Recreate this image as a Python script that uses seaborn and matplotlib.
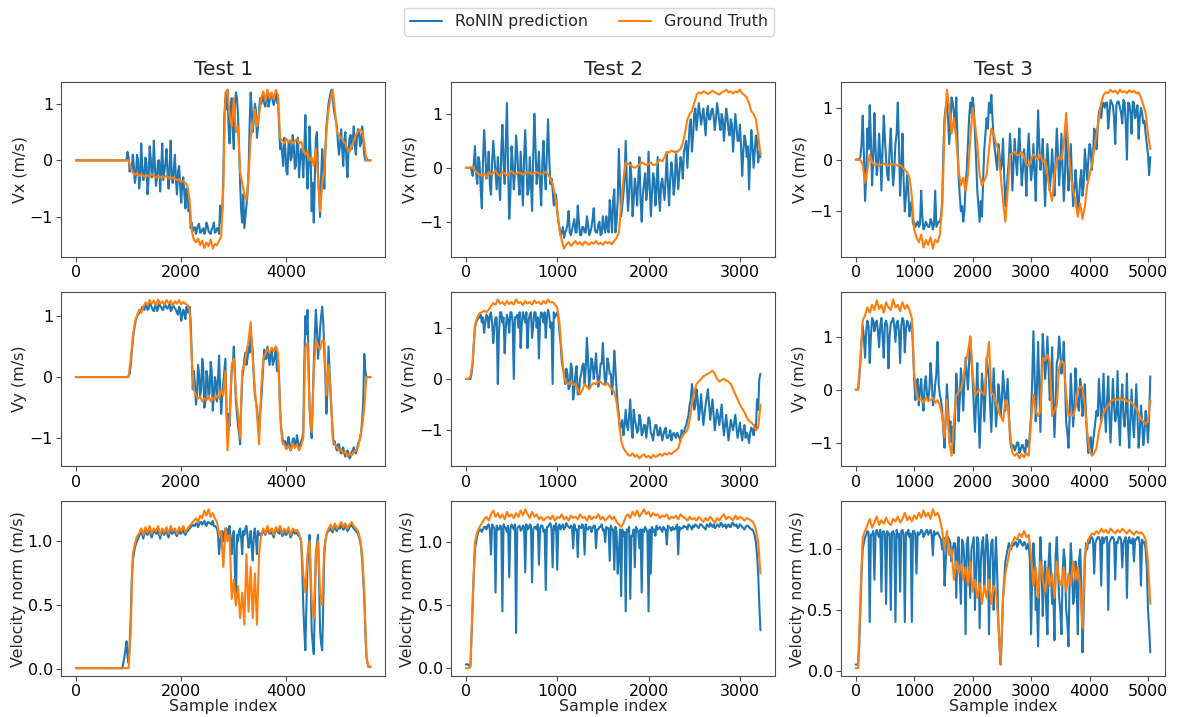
import numpy as np
import pandas as pd
import seaborn as sns
import matplotlib
matplotlib.use("Agg")
import matplotlib.pyplot as plt
from matplotlib.lines import Line2D

# ---- data (sample index = evenly spaced over each run)
TESTS = ["Test 1", "Test 2", "Test 3"]
TEST_LEN = [5600, 3225, 5040]
ROW_LABELS = ["Vx (m/s)", "Vy (m/s)", "Velocity norm (m/s)"]
SERIES = ["RoNIN prediction", "Ground Truth"]

# Test 1 (141 samples each; *_mid = readings half-way between those samples)
t1_vx_pred = [0] * 24 + [0.02, 0.05, -0.1, 0.1,
    -0.4, 0.1, -0.5, 0.3, -0.35, 0.05, -0.6, 0.25, -0.3, 0.35, -0.45, 0.0, -0.55, 0.3, -0.2, 0.2, -0.5, 0.35,
    -0.4, 0.1, -0.6, -0.1, -0.75, -0.3, -0.85,
    -0.6, -0.8, -1.1,
    -1.2, -1.3, -1.15, -1.28, -1.22, -1.3, -1.1, -1.25, -1.3, -1.18, -1.28, -1.2, -1.3, -1.1,
    -0.3, 1.1, 1.25, 0.3, 1.1, 0.2, 1.2, 0.8, -0.4, -1.1, -1.2, -0.8, -0.2, 1.2, 0.5, 1.0, 0.4, 0.9,
    1.0, 1.15, 0.95, 1.2, 1.05, 1.15, 0.98, 1.2, 1.1,
    0.2,
    0.1, 0.4, -0.2, 0.3, 0.0, 0.45, -0.15, 0.35, -0.3, 0.2,
    -0.3, 0.8, -0.5, 0.6, -0.9, -1.1, 0.4, -0.2, -1.0, 0.2, -0.5, 0.6, 1.0, 1.2, 1.1, 0.8, 0.6,
    0.1, 0.55, -0.1, 0.5, -0.3, 0.4,
    0.2, 0.6, 0.1, 0.55, 0.25, 0.6,
    0.1, 0.05, 0.0, 0.0]
t1_vx_pred_mid = [0] * 23 + [0.0, 0.15, -0.2, -0.15,
    -0.1, -0.25, 0.0, -0.3, -0.1, -0.25, -0.05, -0.35, 0.05, -0.2, -0.1, -0.3, 0.0, -0.15, -0.35, -0.05,
    -0.2, -0.1, -0.3, -0.15, -0.35, -0.2, -0.45, -0.4, -0.6,
    -0.5, -0.9, -1.2,
    -1.25, -1.18, -1.22, -1.12, -1.27, -1.2, -1.24, -1.15, -1.28, -1.22, -1.1, -1.26, -1.2, -0.8,
    -0.9, 0.8, 0.9, 0.6, 0.9, 0.5, 1.0, 1.1, 0.2, -0.9, -0.6, -1.0, -0.6, 0.6, 0.9, 0.7, 0.9, 0.6, 1.1,
    1.08, 1.0, 1.12, 0.95, 1.18, 1.05, 1.12, 1.02,
    0.6,
    0.3, -0.1, 0.2, -0.25, 0.35, 0.05, 0.25, -0.1, 0.4, 0.0,
    0.1, 0.2, 0.0, -0.1, 0.1, -0.4, -0.3, 0.5, -0.6, -0.3, -0.1, 0.2, 0.8, 1.1, 1.25, 0.9, 0.7, 0.3,
    0.3, 0.2, 0.35, 0.0, 0.15,
    0.45,
    0.35, 0.25, 0.4, 0.5, 0.3,
    0.4, 0.0, 0.0, 0.0]
t1_vx_gt = [0] * 25 + [0.0, -0.12, -0.22,
    -0.25, -0.22, -0.28, -0.24, -0.27, -0.3, -0.26, -0.29, -0.25, -0.28, -0.3, -0.27, -0.31, -0.28, -0.3, -0.27,
    -0.3, -0.33, -0.3, -0.32, -0.35, -0.33, -0.38, -0.36, -0.4,
    -0.45, -0.7, -1.25,
    -1.4, -1.45, -1.38, -1.5, -1.42, -1.55, -1.45, -1.52, -1.4, -1.56, -1.48, -1.5, -1.42, -1.35,
    -0.5, 1.2, 1.25, 0.8, 0.6, 1.1, 0.5, 0.6, -0.2, -0.4, -0.6, -0.7, -0.3, 0.4, 0.6, 0.9, 0.6, 0.8,
    1.1, 1.22, 1.05, 1.25, 1.1, 1.2, 1.08, 1.25, 1.15,
    0.4,
    0.35, 0.3, 0.38, 0.32, 0.36, 0.3, 0.34, 0.38, 0.3, 0.33,
    0.2, 0.1, 0.15, 0.0, 0.05, -0.1, 0.2, -0.3, -0.9, -0.4, -0.2, 0.5, 0.9, 1.1, 1.25, 0.9, 0.5,
    0.45, 0.4, 0.35, 0.3, 0.2, 0.15,
    0.25, 0.35, 0.45, 0.5, 0.55, 0.5,
    0.3, 0.0, 0.0, 0.0]
t1_vy_pred = [0] * 25 + [0.02,
    0.2, 0.6, 0.85, 1.0, 1.05, 1.1,
    1.12, 1.18, 1.1, 1.2, 1.14, 1.08, 1.2, 1.12, 1.17, 1.1, 1.2, 1.13, 1.16, 1.08, 1.18, 1.12, 1.05, 1.15,
    0.92, 1.1, 0.95,
    1.12, 1.15, 0.4, 0.1,
    -0.45, 0.2, -0.3, 0.3, -0.5, 0.1, -0.35, 0.25, -0.55, 0.0, -0.4, 0.35,
    -0.6, -0.1, 0.3, -1.0, -0.8, 0.1, 0.5, -0.4, -0.8, -1.1, 0.0, 0.3, 0.2, 0.5, 0.7, 0.4, -0.3, -0.5,
    -0.9, -0.4, 0.2,
    0.3, 0.5, 0.2, 0.45, 0.25, 0.5, 0.3,
    -0.5, -0.95,
    -1.05, -1.15, -0.98, -1.2, -1.02, -1.12, -0.95, -1.18, -1.05, -0.9,
    1.0, 1.1, -0.5, -1.0, 0.2, 1.1, 0.3, 0.8, 1.15, 0.4, -0.6, 0.5, -0.3, -0.9,
    -1.05, -1.2, -1.1, -1.25, -1.15, -1.3, -1.2, -1.33, -1.22, -1.15, -1.25, -1.1,
    -1.0, -0.7, 0.38, 0.0, 0.0, 0.0]
t1_vy_pred_mid = [0] * 25 + [0.05, 0.4, 0.75, 0.95, 1.02, 1.08,
    1.15, 1.1, 1.18, 1.12, 1.19, 1.1, 1.16, 1.08, 1.2, 1.14, 1.1, 1.18, 1.12, 1.2, 1.1, 1.16, 1.1, 1.02,
    1.12, 1.0, 1.05,
    1.15, 1.05, 0.9, -0.2,
    -0.1, -0.3, 0.05, -0.2, 0.15, -0.4, 0.0, -0.25, 0.1, -0.3, -0.1, 0.0,
    -0.2, -0.3, 0.1, -0.5, -0.6, -0.3, 0.2, 0.1, -0.6, -0.9, -0.5, 0.1, 0.4, 0.3, 0.4, 0.6, 0.0, -0.4,
    -0.7, -0.6, -0.1,
    0.45, 0.3, 0.35, 0.4, 0.2, 0.35, 0.1,
    0.0, -0.85,
    -1.1, -1.05, -1.1, -1.08, -1.15, -1.0, -1.1, -1.05, -1.12, -1.0,
    0.2, 0.7, 0.3, -0.8, -0.4, 0.7, 0.8, 0.5, 1.0, 0.9, 0.0, -0.2, 0.1, -0.6, -1.1,
    -1.15, -1.1, -1.2, -1.18, -1.25, -1.28, -1.25, -1.3, -1.2, -1.22, -1.18,
    -1.05, -0.9, -0.4, 0.1, 0.0, 0.0]
t1_vy_gt = [0] * 26 + [0.3, 0.65, 0.9, 1.0, 1.1, 1.05,
    1.15, 1.22, 1.18, 1.26, 1.2, 1.25, 1.17, 1.27, 1.2, 1.24, 1.18, 1.26, 1.21, 1.25, 1.17, 1.24, 1.2, 1.26,
    1.19, 1.23, 1.2,
    1.18, 1.1, 0.3, -0.2,
    -0.3, -0.35, -0.32, -0.4, -0.35, -0.38, -0.3, -0.4, -0.34, -0.37, -0.3, -0.35,
    -0.2, -0.3, 0.1, -1.2, -0.7, 0.2, 0.3, -0.3, -0.6, -1.0, 0.1, 0.2, 0.4, 0.6, 0.9, 0.3, -0.2, -0.6,
    -1.1, -0.2, 0.3,
    0.38, 0.45, 0.4, 0.48, 0.42, 0.5, 0.4,
    -0.6, -1.05,
    -1.1, -1.18, -1.12, -1.2, -1.08, -1.16, -1.1, -1.2, -1.12, -1.0,
    0.5, 0.55, -0.5, -0.9, 0.1, 0.6, 0.5, 0.45, 0.6, 0.6, -0.3, 0.2, -0.2, -1.0,
    -1.1, -1.15, -1.2, -1.18, -1.25, -1.22, -1.3, -1.25, -1.28, -1.22, -1.2, -1.15,
    -1.0, -0.8, -0.5, 0.0, 0.0, 0.0]
t1_norm_pred = [0.01] * 23 + [0.1, 0.22, 0.05, 0.4, 0.85, 0.95, 1.0,
    1.04, 1.08, 1.02, 1.09, 1.05, 1.1, 1.03, 1.08, 1.06, 1.1, 1.02, 1.08, 1.05, 1.09, 1.03, 1.1, 1.06, 1.08,
    1.04, 1.09, 1.06, 1.1, 1.05, 1.08, 1.1,
    1.12,
    1.12, 1.14, 1.11, 1.15, 1.13, 1.16, 1.12, 1.15, 1.14, 1.16, 1.12,
    1.1, 0.9, 1.05, 1.0, 1.1, 1.05, 1.12, 0.9, 1.08, 0.5, 1.0, 1.1, 0.9, 1.05, 1.12, 0.95, 1.08, 0.85,
    1.1, 0.9, 1.05,
    1.04, 1.08, 1.05, 1.1, 1.06, 1.08, 1.03, 1.09, 1.07, 1.1, 1.04, 1.08, 1.05, 1.09, 1.03, 1.08, 1.06,
    1.07, 1.04,
    1.0, 0.5, 0.15, 0.8, 1.05, 0.3, 0.12, 0.9, 1.05, 0.3, 0.15, 0.9, 1.05,
    1.08, 1.1, 1.07, 1.12, 1.08, 1.1, 1.13, 1.09, 1.12, 1.08, 1.11, 1.13, 1.1, 1.08, 1.06,
    1.0, 0.85, 0.55, 0.1, 0.02, 0.02]
t1_norm_pred_mid = [0.01] * 22 + [0.05, 0.15, 0.1, 0.2, 0.7, 0.9, 0.98, 1.02,
    1.06, 1.05, 1.07, 1.06, 1.08, 1.05, 1.06, 1.08, 1.06, 1.05, 1.07, 1.06, 1.08, 1.05, 1.07, 1.06,
    1.08, 1.05, 1.07, 1.06, 1.08, 1.06, 1.07, 1.09,
    1.11,
    1.13, 1.12, 1.14, 1.13, 1.15, 1.14, 1.13, 1.15, 1.14, 1.13, 1.12,
    1.11,
    1.05, 1.0, 1.08, 1.06, 1.1, 1.09, 1.0, 1.05, 0.8, 1.05, 1.08, 1.02, 1.08, 1.1, 1.05, 1.0, 0.95, 1.05,
    1.02, 1.08,
    1.06,
    1.06, 1.07, 1.08, 1.07, 1.06, 1.05, 1.07, 1.08, 1.06, 1.07, 1.06, 1.05, 1.07, 1.06, 1.05, 1.07, 1.06,
    1.05,
    1.03,
    0.8, 0.3, 0.5, 0.95, 0.7, 0.2, 0.5, 0.98, 0.7, 0.2, 0.5, 1.0,
    1.07,
    1.09, 1.08, 1.1, 1.09, 1.11, 1.1, 1.12, 1.1, 1.11, 1.09, 1.12, 1.11, 1.09, 1.07,
    1.03, 0.95, 0.7, 0.3, 0.05, 0.02]
t1_norm_gt = [0.01] * 26 + [0.3, 0.9, 0.98, 1.04,
    1.06, 1.1, 1.05, 1.11, 1.07, 1.12, 1.06, 1.1, 1.08, 1.12, 1.05, 1.1, 1.07, 1.11, 1.06, 1.12, 1.08, 1.1,
    1.06, 1.11, 1.08, 1.12, 1.07, 1.1, 1.12,
    1.14,
    1.16, 1.18, 1.15, 1.2, 1.18, 1.24, 1.2, 1.25, 1.19, 1.22, 1.18,
    1.15, 1.05, 1.08, 0.8, 1.1, 1.0, 1.05, 0.55, 0.7, 0.5, 0.65, 0.4, 0.6, 0.35, 0.9, 0.45, 0.8, 0.4,
    0.75, 0.35, 0.9,
    1.05, 1.1, 1.06, 1.12, 1.07, 1.1, 1.05, 1.11, 1.08, 1.12, 1.06, 1.1, 1.07, 1.11, 1.05, 1.1, 1.08,
    1.09, 1.06,
    1.0, 0.75, 0.6, 0.9, 1.0, 0.55, 0.4, 0.9, 1.0, 0.6, 0.5, 0.95, 1.05,
    1.1, 1.13, 1.09, 1.14, 1.1, 1.12, 1.15, 1.11, 1.14, 1.1, 1.13, 1.15, 1.12, 1.1, 1.08,
    1.02, 0.9, 0.6, 0.1, 0.02, 0.02]

# Test 2 (130 samples each)
t2_vx_pred = [0, 0, 0.0, -0.15,
    0.4, -0.3, 0.1, -0.75, 0.7, -0.2, 0.3, -0.5, 0.5, -0.1, 0.2, -0.6, 0.8, -0.3, 1.2, -0.95, 0.4, -0.4,
    0.6, -0.2, 0.3, -0.7, 0.7, -0.5, 0.2, -0.8, 1.0, -0.3, 0.3, -0.7, 0.5, -0.4, 0.9, -0.3,
    -0.4, -0.6, -0.8, -1.1, -1.2, -1.3,
    -1.15, -0.8, -1.25, -1.05, -1.2, -0.7, -1.25, -1.1, -1.2, -0.9, -1.25, -1.1, -0.75, -1.2, -1.05, -1.25,
    -0.9, -1.2, -1.1, -0.6, -1.2, -0.4,
    -1.0, 0.35, -0.9, -0.5, 0.5,
    -0.8, 0.1, -0.9, -0.2, -0.7, 0.2, -1.0, -0.3, -0.6, 0.3, -0.9, -0.1, -0.7, 0.2, -0.8, -0.2,
    -0.6, 0.25,
    -0.7, 0.1, -0.5, 0.3, -0.4, 0.2,
    -0.2, 0.4, 0.0, 0.8, 0.3, 1.0, 0.7,
    1.2, 0.8, 1.1, 0.6, 1.15, 0.9, 1.1, 0.7, 1.2, 0.85, 1.0, 0.5, 1.1, 0.7, 0.9, 0.3, 1.0, 0.5, 0.8,
    -0.15, 0.6,
    0.2, -0.4, 0.7, 0.0, 0.6, 0.1, 0.2]
t2_vx_pred_mid = [0, 0, -0.05, 0.1,
    -0.1, 0.2, -0.4, 0.1, 0.3, -0.1, -0.3, 0.1, 0.2, -0.4, -0.2, 0.3, 0.1, 0.5, 0.0, -0.5, 0.1, -0.1,
    0.3, -0.5, -0.2, 0.2, 0.1, -0.4, -0.3, 0.2, 0.4, -0.1, -0.3, 0.1, -0.1, 0.3, 0.2,
    -0.2, -0.7, -0.5, -1.0, -1.25, -1.1,
    -1.2, -1.05, -1.2, -1.15, -0.95, -1.2, -1.0, -1.25, -1.1, -1.2, -1.05, -1.2, -0.95, -1.15, -1.2, -1.0,
    -1.22, -1.1, -0.9, -1.2, -0.85, -0.6,
    -1.2, -0.6, -0.3, -0.7, -0.2,
    -0.3, -0.5, -0.2, -0.6, -0.4, -0.2, -0.6, -0.5, -0.1, -0.4, -0.3, -0.5, -0.2, -0.4, -0.5, -0.3,
    -0.4, -0.2,
    -0.3, -0.2, -0.1, -0.3, 0.0, -0.1,
    0.1, 0.3, 0.5, 0.4, 0.9, 0.6, 1.1, 0.95,
    1.0, 0.95, 0.85, 1.0, 0.9, 1.05, 0.95, 0.9, 1.05, 0.7, 0.9, 0.8, 0.95, 0.6, 0.8, 0.65, 0.75, 0.5,
    0.4, 0.3,
    0.5, 0.4, 0.2, 0.4, 0.3, 0.5, 0.3]
t2_vx_gt = [0, 0, 0, 0.02, -0.05, -0.1,
    -0.12, -0.15, -0.1, -0.18, -0.08, -0.12, -0.1, -0.05, -0.12, -0.15, -0.08, -0.1, -0.14, -0.1, -0.06,
    -0.1, -0.12, -0.08, -0.1, -0.13, -0.1, -0.07, -0.09, -0.12, -0.1, -0.08, -0.1, -0.12, -0.1, -0.08,
    -0.12, -0.2,
    -0.3, -0.5, -0.8, -1.15, -1.35, -1.5,
    -1.42, -1.38, -1.45, -1.4, -1.36, -1.42, -1.38, -1.44, -1.37, -1.4, -1.43, -1.38, -1.41, -1.36, -1.42,
    -1.39, -1.43, -1.37, -1.4, -1.38, -1.42, -1.35,
    -1.3, -1.2, -0.7, -0.2, 0.1,
    0.08, 0.05, 0.02, 0.0, 0.03, 0.06, 0.1, 0.08, 0.05, 0.07, 0.1, 0.05, 0.06, 0.1, 0.15, 0.12,
    0.2, 0.3,
    0.28, 0.32, 0.3, 0.27, 0.32, 0.35,
    0.45, 0.65, 0.9, 1.0, 1.05, 1.2, 1.35,
    1.4, 1.38, 1.42, 1.4, 1.37, 1.4, 1.43, 1.4, 1.38, 1.36, 1.4, 1.42, 1.45, 1.4, 1.42, 1.38, 1.42, 1.4,
    1.45, 1.38, 1.35,
    1.3, 1.2, 1.05, 1.0, 0.9, 0.6, 0.25]
t2_vy_pred = [0, 0, 0.0, 0.3, 1.0, 1.15, 1.2,
    1.1, 0.9, 1.25, 1.0,
    1.3, 0.7, 1.2, -0.1, 1.3, 1.1, 0.5, 1.25, 0.9, 1.3, 0.0, 1.2, 1.0, 0.6, 1.3, 1.1, 0.6, 1.25, 0.8, 1.3,
    1.0, 0.4, 1.3, 1.1, 0.8, 1.35, 1.0, -0.1, 1.2,
    1.3, 0.9, 0.35, 0.1,
    0.2, -0.2, 0.3, -0.4, 0.1, -0.3, 0.0, 0.25, -0.1, 0.8, -0.2, 0.4, 0.0, 0.5, -0.15, 0.3, 0.7, -0.1,
    0.4, 0.1, -0.3, 0.55,
    -0.2, -0.7, -0.9, -1.1, -0.6,
    -1.0, -0.4, -1.15, -0.8, -1.05, -0.7, -1.1, -0.9, -1.15, -0.75, -1.05, -1.2, -0.9, -1.1, -0.95, -1.2,
    -1.0, -1.15, -1.1, -1.2, -1.05,
    -1.15, -1.1, -1.2, -1.1, -0.95, -0.8, -0.5, -0.1, -0.6, -0.2, -0.8, -0.3, -0.9, -0.5, -0.2, -0.8,
    -0.4, -1.0, -0.6, -0.9, -0.5, -1.1, -0.7, -1.2, -0.8, -1.0, -0.7, -1.15, -0.85, -1.2, -0.9, -1.05,
    -1.25, -0.95, -1.1, -1.0, -0.6, 0.1]
t2_vy_pred_mid = [0, 0, 0.1, 0.7, 1.1, 1.2, 1.25,
    1.2, 1.1, 1.2,
    1.25, 1.1, 1.0, 1.2, 0.9, 1.3, 1.2, 1.0, 1.15, 1.3, 1.1, 1.2, 1.25, 1.3, 1.1, 1.2, 1.3, 1.15, 1.3,
    1.05, 1.3, 1.2, 1.15, 1.25, 1.3, 1.2, 1.25, 1.1, 1.3,
    1.25, 1.2, 0.7, 0.2,
    -0.1, 0.1, -0.15, 0.2, -0.2, 0.25, -0.3, 0.1, 0.3, 0.2, 0.4, 0.1, 0.3, 0.2, 0.1, 0.0, 0.3, 0.2,
    0.0, 0.3, 0.1, 0.0,
    0.2, -0.5, -1.0, -0.8, -0.9,
    -0.9, -0.7, -0.95, -0.6, -0.9, -1.0, -0.8, -1.05, -0.9, -0.95, -0.8, -1.1, -1.0, -0.9, -1.1, -1.05,
    -1.1, -0.95, -1.15, -1.0, -1.1,
    -1.1, -1.05, -1.15, -1.0, -1.05, -0.9, -0.7, -0.4, -0.3, -0.5, -0.4, -0.6, -0.6, -0.7, -0.35, -0.5,
    -0.6, -0.7, -0.8, -0.75, -0.7, -0.85, -0.9, -0.95, -1.0, -0.9, -0.85, -0.95, -1.0, -1.05, -1.0,
    -1.15, -1.1, -1.05, -1.0, -0.9, -0.4, 0.0]
t2_vy_gt = [0, 0, 0.05, 0.35, 1.05, 1.2, 1.28,
    1.3, 1.33, 1.3, 1.35,
    1.42, 1.48, 1.45, 1.55, 1.47, 1.5, 1.44, 1.52, 1.46, 1.5, 1.45, 1.55, 1.48, 1.5, 1.44, 1.52, 1.47, 1.5,
    1.45, 1.53, 1.48, 1.5, 1.45, 1.52, 1.47, 1.55, 1.49, 1.5, 1.45,
    1.4, 1.1, 0.5, 0.05,
    -0.08, -0.1, -0.05, -0.12, -0.1, -0.2, -0.3, -0.22, -0.1, -0.15, -0.2, -0.12, -0.08, -0.1, -0.05,
    -0.06, -0.1, -0.12, -0.08, -0.15, -0.2, -0.25,
    -0.45, -0.8, -1.2, -1.35, -1.42,
    -1.48, -1.5, -1.45, -1.52, -1.48, -1.55, -1.5, -1.47, -1.53, -1.5, -1.55, -1.48, -1.52, -1.5, -1.46,
    -1.5, -1.45, -1.48, -1.44, -1.47, -1.42,
    -1.4, -1.35, -1.2, -1.1, -1.05, -1.0, -0.8, -0.5, -0.25, -0.1, -0.05, 0.0, 0.05, 0.08, 0.1, 0.13,
    0.16, 0.1, 0.0, -0.05, -0.02, 0.0, -0.03, -0.05, -0.1, -0.2, -0.3, -0.4, -0.5, -0.58, -0.65, -0.75,
    -0.82, -0.85, -0.9, -1.0, -0.95, -0.5]
t2_norm_pred = [0.03, 0.03, 0.02, 0.5, 0.95, 1.05, 1.1, 1.08,
    1.12, 1.1, 1.14, 0.9, 1.12, 0.6, 1.1, 1.13, 0.45, 1.12, 1.08, 0.72, 1.14, 1.1, 0.28, 1.12, 1.09, 1.13,
    0.76, 1.1, 1.14, 0.68, 1.12, 1.1, 0.82, 1.13, 1.08, 0.62, 1.12, 1.15, 0.8, 1.1, 0.78, 1.14, 1.12, 1.1,
    1.15, 1.12, 1.13, 0.95, 1.1, 0.88, 1.12, 1.14, 0.9, 1.1, 1.12, 1.08, 1.13, 0.95, 1.1, 1.12, 1.09, 1.0,
    1.11, 0.85, 1.1, 0.78, 1.08, 0.9,
    0.57, 1.05,
    0.45, 1.08, 0.55, 1.05, 0.8, 1.1, 0.95, 0.6, 1.08, 1.1, 0.45, 0.75, 1.08, 1.05, 1.1, 1.12, 1.08, 1.1,
    0.98, 1.12, 1.09, 1.1, 1.12, 0.9, 1.1, 1.11, 1.12, 1.1, 1.13, 1.1, 1.12,
    1.13, 1.11, 1.14, 1.12, 1.1, 1.13, 1.15, 1.12, 1.11, 1.14, 1.12, 1.15, 1.13, 1.11, 1.14, 1.12, 1.15,
    1.13, 1.11, 1.14, 1.12, 1.1, 1.13,
    1.12, 1.1, 1.08, 1.0, 0.75, 0.3]
t2_norm_pred_mid = [0.03, 0.02, 0.25, 0.75, 1.0, 1.08, 1.1, 1.1,
    1.12, 1.13, 1.1, 1.14, 1.11, 1.13, 1.1, 1.12, 1.14, 1.11, 1.13, 1.1, 1.12, 1.14, 1.11, 1.13, 1.1, 1.12,
    1.14, 1.11, 1.13, 1.1, 1.12, 1.14, 1.11, 1.13, 1.1, 1.12, 1.14, 1.11, 1.13, 1.15, 1.12, 1.1, 1.14,
    1.12, 1.13, 1.11, 1.12, 1.14, 1.1, 1.13, 1.11, 1.12, 1.14, 1.1, 1.12, 1.11, 1.13, 1.1, 1.12, 1.14,
    1.1, 1.12, 1.11, 1.13, 1.1, 1.12, 0.75, 1.1,
    1.1, 1.08,
    1.1, 1.12, 1.05, 1.1, 1.12, 1.08, 1.1, 1.1, 1.12, 1.08, 1.1, 1.12, 1.1, 1.13, 1.11, 1.1, 1.12, 1.1,
    1.13, 1.11, 1.12, 1.1, 1.14, 1.12, 1.11, 1.13, 1.12, 1.14, 1.12, 1.13,
    1.14,
    1.12, 1.14, 1.13, 1.11, 1.14, 1.12, 1.13, 1.14, 1.12, 1.13, 1.15, 1.12, 1.14, 1.13, 1.12, 1.15, 1.13,
    1.14, 1.12, 1.13, 1.11, 1.12,
    1.13, 1.11, 1.1, 1.05, 0.9, 0.5]
t2_norm_gt = [0.0, 0.0, 0.01, 0.55, 1.0, 1.08, 1.12, 1.15,
    1.18, 1.2, 1.17, 1.22, 1.25, 1.2, 1.23, 1.19, 1.22, 1.18, 1.24, 1.2, 1.22, 1.19, 1.23, 1.2, 1.25, 1.21,
    1.26, 1.22, 1.19, 1.24, 1.2, 1.22, 1.18, 1.2, 1.17, 1.19, 1.2, 1.18, 1.21, 1.17, 1.2, 1.19, 1.22, 1.18,
    1.2, 1.17, 1.21, 1.19, 1.2, 1.18, 1.22, 1.19, 1.2, 1.17, 1.21, 1.18, 1.2, 1.19, 1.22, 1.18, 1.2, 1.17,
    1.19, 1.21, 1.18, 1.2, 1.16, 1.14,
    1.12, 1.15,
    1.2, 1.22, 1.19, 1.24, 1.21, 1.25, 1.2, 1.23, 1.26, 1.22, 1.24, 1.2, 1.23, 1.21, 1.22, 1.19, 1.21, 1.2,
    1.22, 1.18, 1.2, 1.19, 1.21, 1.18, 1.22, 1.2, 1.19, 1.17, 1.2, 1.18, 1.19,
    1.17, 1.2, 1.18, 1.16, 1.19, 1.17, 1.2, 1.18, 1.15, 1.19, 1.17, 1.2, 1.22, 1.18, 1.2, 1.19, 1.17,
    1.21, 1.18, 1.2, 1.19, 1.17, 1.19,
    1.18, 1.17, 1.15, 1.1, 1.0, 0.75]

# Test 3 (127 samples each)
t3_vx_pred = [0, 0, 0.05, 0.85, -0.8, 0.6, 1.05, -0.5,
    0.9, -0.3, 0.5, -0.6, 0.85, 0.0, -0.4, 0.6, -0.5, 0.3, 1.1, -0.7, 0.5, -1.0, -0.3,
    -1.1, -0.8, -1.2,
    -1.25, -1.3, -0.6, -1.35, -1.2, -1.3, -1.15, -1.35, -0.6, -1.25, -1.2,
    -0.8, 0.8, 1.1, 0.3, 1.2, 0.9, 1.2, -0.3, -1.0, -1.2, -0.5, 0.3, 1.1, 1.2, 0.5, -0.6, -1.2, -1.1,
    0.2, 0.8, 1.1, 1.25, 0.4, 0.0, 0.3, -0.2, 0.4, -0.9, -0.3, 0.5,
    -0.6, 0.4, -0.3, 0.6, -0.5, 0.2, -0.7, 0.5, -0.4, 0.3,
    -0.8, 0.95, -0.2, 0.4, -0.9, 0.3, -0.6, 0.2, -0.7,
    0.6, -0.5, 0.5, -0.8,
    0.6, -0.6, 0.3, -0.9, -0.2, -1.0, -0.4, -0.7, 0.2, -0.4, 0.3, -0.2, 0.6, 0.2, 0.9, 0.8, 1.1,
    1.1, 0.6, 1.15, 1.05, 0.3, 1.12, 1.0, 0.7, 1.1, 0.0, 1.08, 0.5, 1.1, 0.9, 0.4,
    1.0, 0.7, 0.5, 0.1, 0.05]
t3_vx_pred_mid = [0, 0.0, 0.3, 0.1, -0.3, 0.2, 0.4, 0.0,
    0.2, -0.1, 0.1, 0.2, 0.4, -0.3, 0.2, 0.0, -0.2, 0.5, 0.3, -0.2, -0.4, -0.7,
    -0.6, -0.9, -1.25,
    -1.3, -1.2, -1.25, -1.1, -1.3, -1.25, -1.3, -1.2, -1.25, -1.3, -1.2,
    -1.1, 0.2, 1.0, 0.8, 0.7, 1.1, 0.6, 0.4, -0.7, -0.9, -1.0, -0.2, 0.8, 0.9, 1.0, 0.0, -0.9, -0.8,
    -0.4, 0.5, 0.6, 0.9, 0.8, 0.2, -0.2, 0.1, -0.1, -0.3, -0.6, 0.0, 0.1,
    -0.1, 0.0, 0.2, 0.0, -0.2, -0.1, 0.1, 0.0, -0.2,
    -0.2,
    0.1, 0.3, 0.0, -0.3, -0.2, -0.1, -0.3, -0.2,
    0.0,
    0.1, -0.1, -0.2,
    -0.3, 0.0, -0.3, -0.4, -0.6, -0.5, -0.8, -0.2, -0.5, -0.1, 0.0, 0.2, 0.1, 0.5, 0.6, 1.0, 1.05,
    1.0, 1.1, 0.9, 1.1, 0.8, 1.05, 1.12, 0.9, 1.15, 0.7, 1.1, 0.9, 1.12, 0.8, 1.05,
    0.8, 0.9, 0.75, 0.3, -0.3]
t3_vx_gt = [0, 0, 0.0, -0.1, -0.45, -0.2, 0.1, -0.05,
    -0.1, -0.08, -0.12, -0.1, -0.07, -0.1, -0.12, -0.08, -0.1, -0.09, -0.12, -0.1, -0.15, -0.2, -0.25,
    -0.35, -0.7, -1.35,
    -1.5, -1.6, -1.45, -1.7, -1.55, -1.65, -1.5, -1.72, -1.55, -1.6, -1.45,
    -0.9, 0.6, 1.35, 1.0, 0.5, 0.8, 0.4, -0.2, -0.5, -0.35, -0.6, -0.3, 0.4, 1.0, 0.7, 0.3, -0.3, -0.5,
    -0.4, -0.3, 0.2, 0.6, 0.5, 0.3, 0.2, -0.3, -0.8, -1.2, -0.6, 0.1,
    0.12, 0.15, 0.08, 0.1, 0.15, 0.05, -0.1, -0.12, 0.0, 0.1,
    0.05, 0.0, 0.1, -0.05, 0.0, -0.3, -0.6, -0.8, -0.3,
    0.0, 0.05, 0.0, 0.3,
    0.9, 0.2, -0.3, -0.6, -0.8, -1.1, -0.85, -1.15, -0.9, -0.5, -0.3, -0.1, 0.2, 0.5, 0.8, 1.1, 1.25,
    1.3, 1.28, 1.35, 1.3, 1.33, 1.27, 1.35, 1.3, 1.32, 1.28, 1.34, 1.3, 1.33, 1.28, 1.3,
    1.2, 1.05, 0.9, 0.5, 0.2]
t3_vy_pred = [0, 0, 0.5, 1.2, 0.6,
    1.3, 0.5, 1.35, 1.1, 1.3, 0.8, 1.35, 0.6, 1.3, 0.4, 1.25, 1.35, 0.9, 1.3, 0.5, 1.35, 0.7, 1.3, 1.1,
    1.3, 0.2, 0.1,
    -0.3, 0.2, -0.4, 0.25, -0.2, 0.5, -0.3, 0.1, 0.9, -0.1,
    -0.4, -1.1, 0.1, -0.8, -1.0, -1.2, 0.3, -0.6, 0.4, -0.4, 0.6, 0.0, 1.0, 0.2, -0.8, 0.5, -1.1, 0.3,
    -0.6, 0.6, 0.2, -0.8, 0.4, -0.7, 0.1, -0.5, 0.35, -0.4, 0.2, -0.9, -1.05,
    -1.15, -1.0, -1.2, -1.05, -1.15, -0.95, -1.1,
    -0.5, 1.1, -0.6, 0.9, -0.8, 1.05, 0.2, 1.0, -0.2, 0.8, -0.9, 0.5, 1.0, 0.3, 0.9, -0.6, -1.1, 0.3,
    -0.7, 0.4, -0.3, 0.2, -0.5, 0.1, -0.9, -1.1, -1.2, -0.8, -0.4, 0.2, -0.6, 0.3, -0.8, 0.25,
    -1.0, 0.2, -0.6, 0.35, -1.05, 0.1, -0.7, 0.3, -1.1, 0.0,
    -0.9, 0.1, -1.1, -0.3, -1.05, -0.4, -1.0, 0.25]
t3_vy_pred_mid = [0, 0.2, 0.9, 1.0, 1.1,
    1.2, 1.0, 1.3, 1.25, 1.1, 1.2, 1.0, 1.25, 1.2, 1.0, 1.3, 1.2, 1.25, 1.1, 1.2, 1.3, 1.15, 1.25,
    1.2, 0.8, -0.2, 0.2,
    0.0, -0.2, 0.1, -0.1, 0.0, 0.2, -0.2, 0.3, 0.1,
    -0.2, -0.8, -0.5, -0.3, -0.6, -0.7, -0.5, 0.0, -0.2, 0.1, 0.2, 0.3, 0.5, 0.6, -0.3, -0.2, -0.4, -0.5,
    0.0, -0.1, 0.4, -0.3, -0.2, -0.1, -0.4, -0.1, -0.2, 0.0, -0.1, -0.4, -1.1,
    -1.05, -1.1, -1.0, -1.15, -1.05, -1.2, -1.0,
    -0.8, 0.2, 0.3, 0.0, 0.1, 0.3, 0.6, 0.5, 0.4, 0.1, -0.2, -0.3, 0.6, 0.7, 0.5, 0.2, -0.8, -0.5, -0.2,
    -0.3, 0.0, -0.4, 0.0, -0.3, -0.5, -1.2, -0.9, -1.0, -0.6, -0.5, -0.2, -0.3, -0.4, -0.2, -0.5,
    -0.4, -0.3, -0.5, -0.6, -0.3, -0.5, -0.4, -0.7, -0.5,
    -0.6, -0.4, -0.5, -0.8, -0.6, -0.8, -0.6, -0.5]
t3_vy_gt = [0, 0, 0.6, 1.3, 1.4,
    1.55, 1.45, 1.6, 1.5, 1.68, 1.52, 1.6, 1.45, 1.65, 1.55, 1.5, 1.7, 1.55, 1.6, 1.48, 1.65, 1.52, 1.6, 1.5,
    1.35, 0.3, -0.1,
    -0.2, -0.18, -0.25, -0.15, -0.22, -0.2, -0.15, -0.25, -0.2, -0.3,
    -0.5, -0.9, -0.2, -1.0, -1.25, -0.6, -0.1, -0.05, 0.0, 0.2, 0.5, 0.7, 1.0, 0.3, -0.1, -0.05, 0.0,
    -0.05, -0.1, 0.5, 0.9, -0.05, -0.1, -0.25, -0.4, -0.5, -0.6, -0.2, -0.3, -0.8, -1.2,
    -1.25, -1.2, -1.3, -1.22, -1.28, -1.2, -1.25,
    -0.6, -0.1, -0.4, -0.5, -0.4, 0.6, 0.55, 0.65, 0.5, -0.5, -0.4, -0.3, 0.4, 0.55, 0.5, -0.1, -0.5,
    -0.45, -0.5, -0.35, 0.0, 0.05, 0.05, -0.3, -0.8, -1.15, -1.25, -1.2, -1.1, -0.8, -0.6, -0.45,
    -0.35, -0.3,
    -0.22, -0.2, -0.18, -0.2, -0.15, -0.2, -0.18, -0.22, -0.2, -0.25,
    -0.3, -0.35, -0.45, -0.55, -0.6, -0.65, -0.6, -0.2]
t3_norm_pred = [0.05, 0.05, 0.5, 1.0, 1.1,
    1.15, 0.4, 1.12, 0.75, 1.16, 1.1, 0.65, 1.15, 0.55, 1.12, 0.5, 1.15, 0.4, 1.1, 0.65, 1.16, 0.4, 1.12,
    1.1, 0.4, 1.15, 0.8, 1.12, 1.16, 1.1, 1.15, 1.12, 1.16, 0.95, 1.12, 1.14,
    1.1, 1.0, 0.7, 1.05, 1.08, 0.9, 1.05,
    0.6, 1.1, 0.55, 1.05, 0.3, 1.1, 0.6,
    1.05, 0.5, 1.1, 0.35, 1.05, 0.7, 1.12, 0.3, 1.05, 0.5, 1.1,
    0.4, 0.05, 0.6, 0.9, 1.0, 1.02, 1.05,
    1.05, 1.02, 1.08, 1.04, 1.06, 1.0, 1.05,
    0.3, 1.05, 0.5, 0.2, 1.1, 0.45, 0.9, 0.3, 1.05, 0.55, 0.25, 1.1, 0.6, 0.3, 1.0, 0.5, 0.2, 1.05, 0.55,
    0.9, 0.3, 1.0,
    0.15, 0.9, 1.0,
    1.05, 1.1, 0.8, 1.08, 1.1, 0.7, 1.05, 1.1, 0.5, 1.08, 1.1, 0.75, 1.05, 1.1, 0.85, 1.08, 0.6, 1.1,
    1.05, 0.9, 1.08, 1.1, 0.7,
    1.05, 1.0, 0.5, 0.15]
t3_norm_pred_mid = [0.05, 0.2, 0.8, 1.05, 1.12,
    1.14, 1.12, 1.15, 1.13, 1.12, 1.16, 1.14, 1.12, 1.15, 1.13, 1.14, 1.12, 1.16, 1.13, 1.15, 1.12, 1.14,
    1.16, 1.13, 1.15, 1.12, 1.14, 1.13, 1.15, 1.12, 1.16, 1.14, 1.12, 1.15, 1.13,
    1.12, 1.08, 1.1, 0.9, 1.1, 1.05, 1.0,
    1.05, 1.0, 0.8, 1.08, 0.9, 1.05, 0.85,
    1.0,
    1.1, 0.8, 1.05, 0.9, 1.1, 0.95, 1.05, 0.9, 1.08, 0.85,
    0.8, 0.2, 0.3, 0.75, 0.95, 1.05, 1.0,
    1.03, 1.06, 1.04, 1.07, 1.03, 1.05, 1.02,
    0.9,
    0.8, 0.9, 0.6, 0.7, 0.85, 0.75, 0.5, 0.9, 0.8, 0.7, 0.95, 0.85, 0.5, 0.8, 0.9, 0.4, 0.75, 0.85, 0.6,
    0.7, 0.9,
    0.7, 0.5, 1.05, 1.08,
    1.1, 1.08, 1.05, 1.1, 1.07, 1.1, 1.08, 1.1, 1.05, 1.1, 1.08, 1.06, 1.1, 1.08, 1.05, 1.1, 1.07, 1.05,
    1.09, 1.08, 1.1, 1.05,
    1.08, 1.06, 0.85, 0.35]
t3_norm_gt = [0.02, 0.02, 0.6, 1.1, 1.15,
    1.2, 1.25, 1.18, 1.22, 1.27, 1.2, 1.24, 1.21, 1.26, 1.22, 1.2, 1.25, 1.23, 1.27, 1.22, 1.25, 1.3, 1.24,
    1.27, 1.23, 1.28, 1.25, 1.3, 1.26, 1.32, 1.27, 1.3, 1.25, 1.33, 1.28, 1.3,
    1.25, 1.15, 1.0, 1.15, 0.95, 1.0, 0.75,
    0.9, 0.8, 0.88, 0.75, 0.85, 0.7, 0.9,
    0.65, 0.75, 0.6, 0.72, 0.55, 0.7, 0.6, 0.75, 0.55, 0.7, 0.65,
    0.4, 0.05, 0.6, 0.8, 0.9, 1.0, 1.05,
    1.1, 1.08, 1.13, 1.1, 1.15, 1.1, 1.12,
    0.95, 0.7, 0.85, 0.6, 0.9, 0.75, 0.65, 0.85, 0.7, 0.8, 0.6, 0.9, 0.75, 0.7, 0.85, 0.65, 0.8, 0.7, 0.9,
    0.75, 0.85, 0.7,
    0.35, 0.95, 1.05,
    1.1, 1.13, 1.12, 1.15, 1.13, 1.17, 1.14, 1.16, 1.13, 1.17, 1.15, 1.13, 1.16, 1.14, 1.17, 1.15, 1.13,
    1.16, 1.14, 1.12, 1.15, 1.13, 1.14,
    1.12, 1.08, 0.9, 0.55]

# (prediction, prediction half-step readings, ground truth) per row / test
PANELS = [
    [(t1_vx_pred, t1_vx_pred_mid, t1_vx_gt), (t2_vx_pred, t2_vx_pred_mid, t2_vx_gt),
     (t3_vx_pred, t3_vx_pred_mid, t3_vx_gt)],
    [(t1_vy_pred, t1_vy_pred_mid, t1_vy_gt), (t2_vy_pred, t2_vy_pred_mid, t2_vy_gt),
     (t3_vy_pred, t3_vy_pred_mid, t3_vy_gt)],
    [(t1_norm_pred, t1_norm_pred_mid, t1_norm_gt), (t2_norm_pred, t2_norm_pred_mid, t2_norm_gt),
     (t3_norm_pred, t3_norm_pred_mid, t3_norm_gt)],
]

COLORS = {"RoNIN prediction": "#1f77b4", "Ground Truth": "#ff7f0e"}
FS = 11.4

sns.set_theme(style="ticks", rc={
    "axes.edgecolor": "0.3",
    "axes.linewidth": 0.8,
    "xtick.major.size": 3.5,
    "ytick.major.size": 3.5,
    "xtick.major.width": 0.8,
    "ytick.major.width": 0.8,
    "xtick.major.pad": 2.5,
    "ytick.major.pad": 2.5,
    "xtick.color": "0.3",
    "ytick.color": "0.3",
    "xtick.labelcolor": "black",
    "ytick.labelcolor": "black",
})
plt.rcParams["font.family"] = ["DejaVu Sans"]


def panel_frame(pred, pred_mid, gt, n_end):
    step = n_end / (len(pred) - 1)
    x_pred = np.concatenate([np.linspace(0, n_end, len(pred)),
                             np.linspace(step / 2, n_end - step / 2, len(pred_mid))])
    y_pred = np.concatenate([pred, pred_mid])
    order = np.argsort(x_pred, kind="stable")
    parts = [
        pd.DataFrame({"sample": x_pred[order], "value": y_pred[order], "source": SERIES[0]}),
        pd.DataFrame({"sample": np.linspace(0, n_end, len(gt)), "value": gt, "source": SERIES[1]}),
    ]
    return pd.concat(parts, ignore_index=True)


fig, axes = plt.subplots(3, 3, figsize=(11.78, 7.17), dpi=100)
fig.subplots_adjust(left=0.052, right=0.989, bottom=0.057, top=0.886, wspace=0.203, hspace=0.2)

for r in range(3):
    for c in range(3):
        ax = axes[r, c]
        pred, pred_mid, gt = PANELS[r][c]
        df = panel_frame(pred, pred_mid, gt, TEST_LEN[c])
        sns.lineplot(data=df, x="sample", y="value", hue="source", hue_order=SERIES,
                     palette=COLORS, estimator=None, sort=False, linewidth=1.5,
                     legend=False, ax=ax)
        ax.set_ylabel(ROW_LABELS[r], fontsize=FS, labelpad=1.5)
        if r == 2:
            ax.set_xlabel("Sample index", fontsize=FS, labelpad=0)
        else:
            ax.set_xlabel("")
        ax.tick_params(labelsize=FS)
        if r == 0:
            ax.set_title(TESTS[c], fontsize=14.5, pad=5)
        if r == 2:
            ax.set_yticks([0.0, 0.5, 1.0])

handles = [Line2D([], [], color=COLORS[s], lw=1.5) for s in SERIES]
fig.legend(handles, SERIES, loc="upper center", ncol=2, fontsize=FS,
           bbox_to_anchor=(0.5, 1.0), frameon=True)

fig.savefig("out.png", dpi=100)
